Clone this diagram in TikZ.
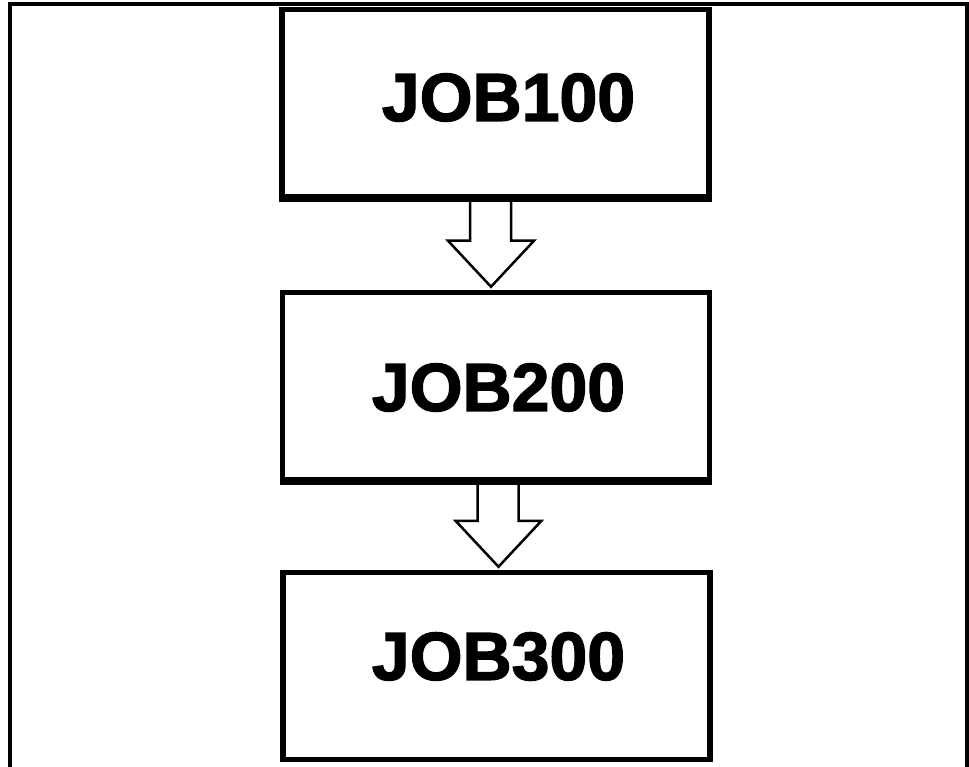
\documentclass[tikz,border=0pt]{standalone}
\usepackage{fontspec}
\setmainfont{Liberation Sans}
\newfontfamily\jobfont[FakeBold=2]{Liberation Sans Bold}
\usetikzlibrary{calc}
\tikzset{
  jobbox/.style={draw, line width=5.5pt, minimum width=427pt, minimum height=187pt, inner sep=0pt},
  jobtext/.style={font=\fontsize{68}{68}\jobfont, inner sep=0pt},
  blockarrow/.style={draw, line width=2.5pt, fill=white, line join=miter},
}
\begin{document}
\begin{tikzpicture}[x=1pt,y=-1pt]
	\useasboundingbox (0,0) rectangle (969,767);
	% outer frame, open at the bottom
	\draw [line width=4pt] (9.5,767) -- (9.5,4.5) -- (966.5,4.5) -- (966.5,767);
	\node [jobbox] (job100) at (495.5,103) {};
	\node [jobbox] (job200) at (496,386) {};
	\node [jobbox] (job300) at (496.5,666) {};
	\node [jobtext] (t100) at (508.5,97.5) {JOB100};
	\node [jobtext] (t200) at (498.5,387.5) {JOB200};
	\node [jobtext] (t300) at (498.5,656.5) {JOB300};
	% block arrows between the boxes
	\foreach \a/\b/\dx in {job100/job200/-5, job200/job300/2}{
		\coordinate (top) at ($(\a.south)+(\dx,0)$);
		\coordinate (tip) at ($(\b.north)+(\dx,-3)$);
		\draw [blockarrow] ($(top)+(-20.5,0)$) |- ($(tip)+(-43,-46)$) -- (tip) -- ($(tip)+(43,-46)$) -| ($(top)+(20.5,0)$);
	}
	% redraw the lower edges so the arrow fill does not cover them
	\draw [line width=5.5pt] (job100.south west) -- (job100.south east);
	\draw [line width=5.5pt] (job200.south west) -- (job200.south east);
\end{tikzpicture}
\end{document}
